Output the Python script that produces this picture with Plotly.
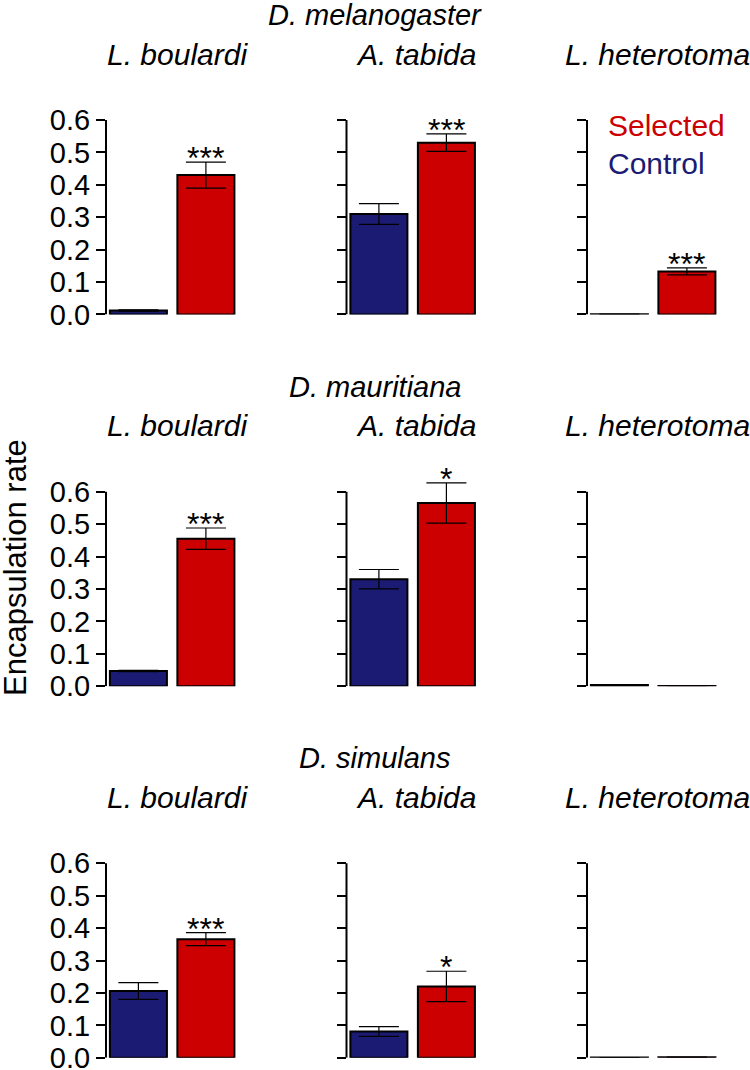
import plotly.graph_objects as go

hosts = ["D. melanogaster", "D. mauritiana", "D. simulans"]
parasitoids = ["L. boulardi", "A. tabida", "L. heterotoma"]
groups = ["Control", "Selected"]

control_mean = [[0.012, 0.310, 0.001], [0.047, 0.330, 0.004], [0.206, 0.081, 0.001]]
control_se = [[0.002, 0.032, 0.0], [0.002, 0.030, 0.001], [0.026, 0.015, 0.0]]
selected_mean = [[0.430, 0.530, 0.133], [0.455, 0.565, 0.001], [0.366, 0.220, 0.002]]
selected_se = [[0.040, 0.027, 0.011], [0.033, 0.062, 0.0], [0.020, 0.047, 0.0]]
signif = [["***", "***", "***"], ["***", "*", ""], ["***", "*", ""]]

y_ticks = [0.0, 0.1, 0.2, 0.3, 0.4, 0.5, 0.6]
y_tick_text = ["0.0", "0.1", "0.2", "0.3", "0.4", "0.5", "0.6"]
y_axis_top = 0.6
y_view_top = 0.68

BLUE = "rgb(27,27,115)"
RED = "rgb(204,0,0)"
W, H = 750, 1070
FONT = "Liberation Sans, Arial, sans-serif"

# layout geometry (pixels)
col_left = [106, 346.5, 587]
col_width = 132.3
row_top = [120, 491.7, 863.3]      # pixel of 0.6
row_height = 194.5                 # pixels from 0.0 to 0.6
row_shift = 371.6
px_per_unit = row_height / y_axis_top

def fx(px):
    return px / W

def fy(py):
    return 1 - py / H

fig = go.Figure()
layout = {}
annotations = []
shapes = []

for r in range(3):
    bottom_px = row_top[r] + row_height
    top_px = bottom_px - y_view_top * px_per_unit
    for c in range(3):
        k = r * 3 + c + 1
        xa = "x" if k == 1 else f"x{k}"
        ya = "y" if k == 1 else f"y{k}"
        means = [control_mean[r][c], selected_mean[r][c]]
        ses = [control_se[r][c], selected_se[r][c]]
        fig.add_trace(go.Bar(
            x=[0, 1], y=means, width=0.845,
            marker=dict(color=[BLUE, RED], line=dict(color="black", width=2)),
            error_y=dict(type="data", array=ses, visible=True, color="black",
                         thickness=1.2, width=20),
            xaxis=xa, yaxis=ya, cliponaxis=False, showlegend=False,
            hoverinfo="y",
        ))
        layout["xaxis" if k == 1 else f"xaxis{k}"] = dict(
            domain=[fx(col_left[c]), fx(col_left[c] + col_width)],
            range=[-0.48, 1.48], visible=False, anchor=ya, automargin=False,
        )
        layout["yaxis" if k == 1 else f"yaxis{k}"] = dict(
            domain=[fy(bottom_px), fy(top_px)],
            range=[0, y_view_top], anchor=xa, automargin=False,
            showline=False,
            ticks="outside", ticklen=9, tickwidth=2, tickcolor="black",
            tickvals=y_ticks, ticktext=y_tick_text, ticklabeloverflow="allow",
            showticklabels=(c == 0), showgrid=False, zeroline=False,
            tickfont=dict(family=FONT, size=29, color="black"),
        )
        # axis spine from 0.0 to 0.6
        shapes.append(dict(
            type="line", xref=f"{xa} domain", yref=ya, x0=0, x1=0,
            y0=0, y1=y_axis_top, line=dict(color="black", width=2),
        ))
        if signif[r][c]:
            annotations.append(dict(
                x=1, y=selected_mean[r][c] + selected_se[r][c], xref=xa, yref=ya,
                text=signif[r][c], showarrow=False, yanchor="bottom",
                yshift=-16, font=dict(family=FONT, size=32, color="black"),
            ))
        # parasitoid subtitle
        annotations.append(dict(
            x=fx([177, 416, 657][c]), y=fy(54 + r * row_shift), xref="paper", yref="paper",
            text=f"<i>{parasitoids[c]}</i>", showarrow=False, yanchor="middle",
            xanchor="center", font=dict(family=FONT, size=30, color="black"),
        ))
    annotations.append(dict(
        x=0.5, y=fy(15 + r * row_shift), xref="paper", yref="paper",
        text=f"<i>{hosts[r]}</i>", showarrow=False, yanchor="middle",
        xanchor="center", font=dict(family=FONT, size=29, color="black"),
    ))

# legend
for name, col, py in [(groups[1], RED, 126), (groups[0], BLUE, 163)]:
    annotations.append(dict(
        x=fx(606), y=fy(py), xref="paper", yref="paper", text=name,
        showarrow=False, xanchor="left", yanchor="middle",
        font=dict(family=FONT, size=30, color=col),
    ))

# y-axis title
annotations.append(dict(
    x=fx(15), y=fy(568), xref="paper", yref="paper", text="Encapsulation rate",
    showarrow=False, textangle=-90, xanchor="center", yanchor="middle",
    font=dict(family=FONT, size=31, color="black"),
))

fig.update_layout(
    width=W, height=H, margin=dict(l=0, r=0, t=0, b=0, autoexpand=False),
    paper_bgcolor="white", plot_bgcolor="white",
    annotations=annotations, shapes=shapes, **layout,
)
fig.write_html(
    "out.html",
    config={"displayModeBar": False},
    post_script="document.body.style.margin='0';document.body.style.overflow='hidden';",
)
